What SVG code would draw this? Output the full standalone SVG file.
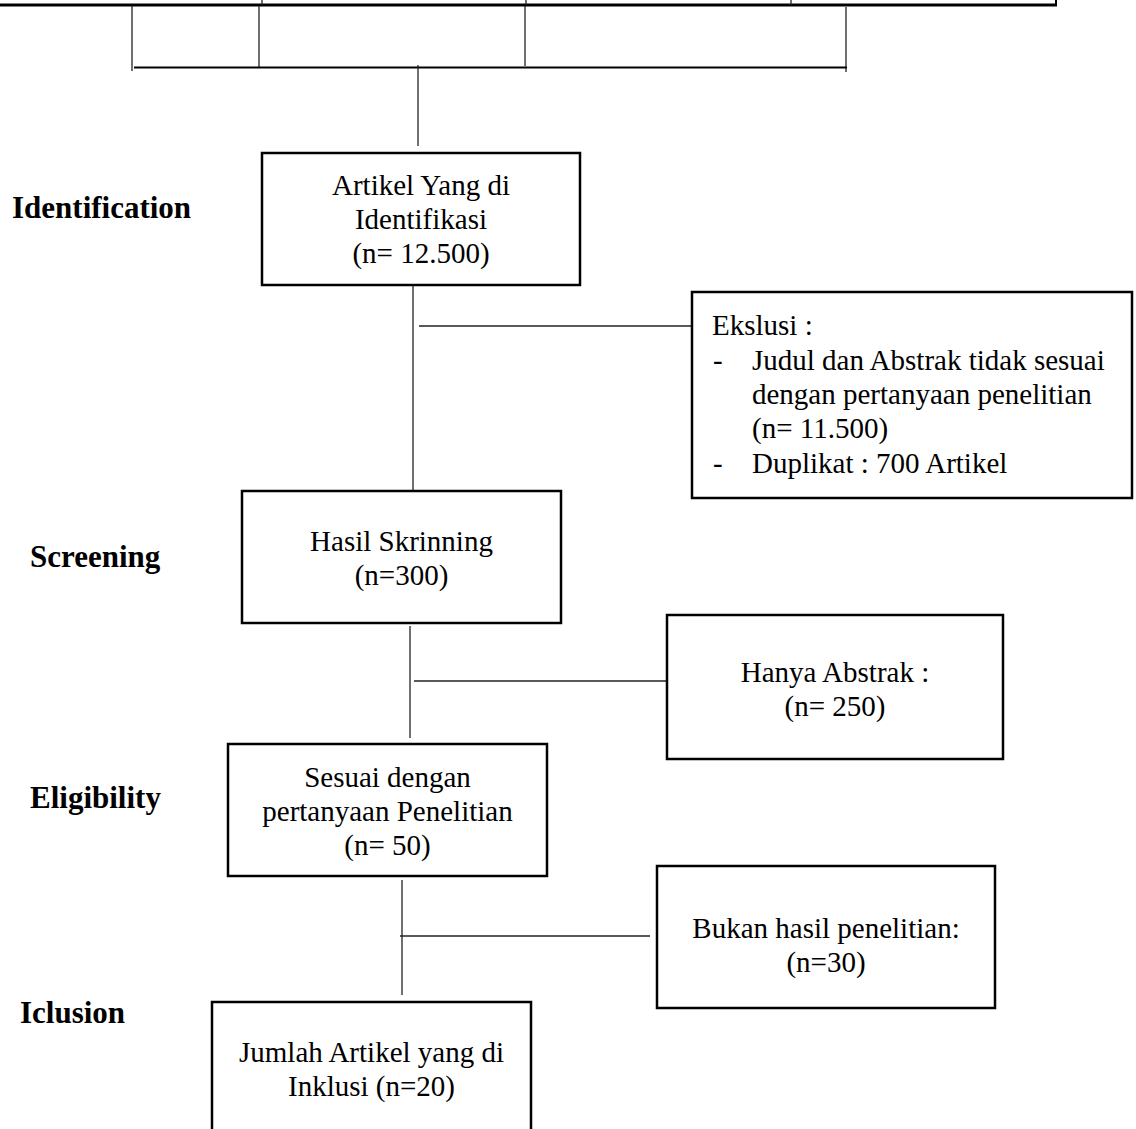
<svg xmlns="http://www.w3.org/2000/svg" width="1136" height="1129" viewBox="0 0 1136 1129">
<style>
.box{fill:#fff;stroke:#000;stroke-width:2.5}
.ln{stroke:#222;stroke-width:1.3;fill:none}
.t{font-family:"Liberation Serif","Times New Roman",serif;font-size:29px;fill:#000}
.c{text-anchor:middle}
.lbl{font-family:"Liberation Serif","Times New Roman",serif;font-size:31px;font-weight:bold;fill:#000}
</style>
<rect width="1136" height="1129" fill="#fff"/>
<g id="top-bar">
<line x1="0" y1="5" x2="1057" y2="5" stroke="#000" stroke-width="3"/>
<line x1="262" y1="0" x2="262" y2="5" class="ln"/>
<line x1="526" y1="0" x2="526" y2="5" class="ln"/>
<line x1="791" y1="0" x2="791" y2="5" class="ln"/>
<line x1="1056" y1="0" x2="1056" y2="6" stroke="#000" stroke-width="2"/>
</g>
<g id="connectors">
<line x1="132" y1="6" x2="132" y2="71" class="ln"/>
<line x1="259" y1="6" x2="259" y2="68" class="ln"/>
<line x1="525" y1="6" x2="525" y2="66" class="ln"/>
<line x1="846" y1="7" x2="846" y2="72" class="ln"/>
<line x1="134" y1="67.5" x2="847" y2="67.5" stroke="#000" stroke-width="1.8"/>
<line x1="418" y1="65" x2="418" y2="146" class="ln"/>
<line x1="413" y1="286" x2="413" y2="490" class="ln"/>
<line x1="419" y1="326" x2="691" y2="326" class="ln"/>
<line x1="410" y1="626" x2="410" y2="738" class="ln"/>
<line x1="414" y1="681" x2="666" y2="681" class="ln"/>
<line x1="402" y1="880" x2="402" y2="995" class="ln"/>
<line x1="400" y1="936" x2="650" y2="936" class="ln"/>
</g>
<g id="label-identification"><text x="12" y="218" class="lbl">Identification</text></g>
<g id="label-screening"><text x="30" y="567" class="lbl">Screening</text></g>
<g id="label-eligibility"><text x="30" y="808" class="lbl">Eligibility</text></g>
<g id="label-iclusion"><text x="20" y="1023" class="lbl">Iclusion</text></g>
<g id="node-identified">
<rect x="262" y="153" width="318" height="132" class="box"/>
<text class="t c" x="421" y="195">Artikel Yang di</text>
<text class="t c" x="421" y="229">Identifikasi</text>
<text class="t c" x="421" y="263">(n= 12.500)</text>
</g>
<g id="node-excluded">
<rect x="692" y="292" width="440" height="206" class="box"/>
<text class="t" x="712" y="335">Ekslusi :</text>
<text class="t" x="713" y="370">-</text>
<text class="t" x="752" y="370">Judul dan Abstrak tidak sesuai</text>
<text class="t" x="752" y="404">dengan pertanyaan penelitian</text>
<text class="t" x="752" y="438">(n= 11.500)</text>
<text class="t" x="713" y="473">-</text>
<text class="t" x="752" y="473">Duplikat : 700 Artikel</text>
</g>
<g id="node-screened">
<rect x="242" y="491" width="319" height="132" class="box"/>
<text class="t c" x="401.5" y="551">Hasil Skrinning</text>
<text class="t c" x="401.5" y="585">(n=300)</text>
</g>
<g id="node-abstract-only">
<rect x="667" y="615" width="336" height="144" class="box"/>
<text class="t c" x="835" y="682">Hanya Abstrak :</text>
<text class="t c" x="835" y="716">(n= 250)</text>
</g>
<g id="node-eligible">
<rect x="228" y="744" width="319" height="132" class="box"/>
<text class="t c" x="387.5" y="787">Sesuai dengan</text>
<text class="t c" x="387.5" y="821">pertanyaan Penelitian</text>
<text class="t c" x="387.5" y="855">(n= 50)</text>
</g>
<g id="node-not-research">
<rect x="657" y="866" width="338" height="142" class="box"/>
<text class="t c" x="826" y="938">Bukan hasil penelitian:</text>
<text class="t c" x="826" y="972">(n=30)</text>
</g>
<g id="node-included">
<rect x="212" y="1002" width="319" height="140" class="box"/>
<text class="t c" x="371.5" y="1062">Jumlah Artikel yang di</text>
<text class="t c" x="371.5" y="1096">Inklusi (n=20)</text>
</g>
</svg>
